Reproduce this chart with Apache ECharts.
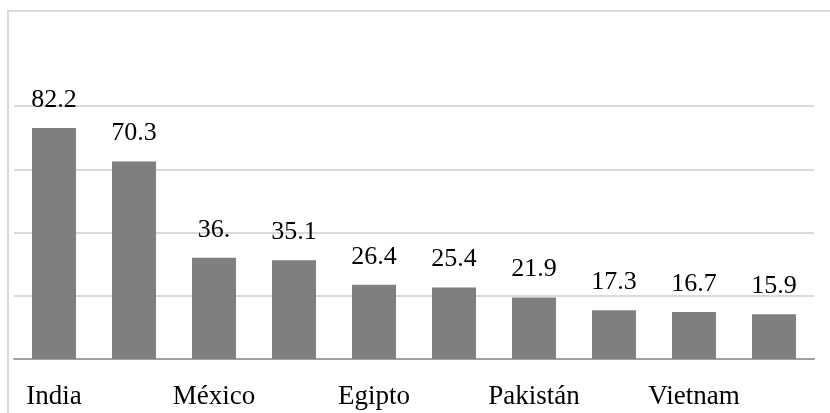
<!DOCTYPE html>
<html>
<head>
<meta charset="utf-8">
<script src="https://cdn.jsdelivr.net/npm/echarts@6/dist/echarts.min.js"></script>
<style>
  html, body { margin: 0; padding: 0; background: #fff; }
  #main { width: 830px; height: 413px; }
</style>
</head>
<body>
<div id="main"></div>
<script>
// países (solo se ve uno de cada dos en el eje)
var paises = ['India', 'China', 'México', 'Filipinas', 'Egipto', 'Nigeria', 'Pakistán', 'Bangladesh', 'Vietnam', 'Ucrania'];
var valores = [82.2, 70.3, 36.0, 35.1, 26.4, 25.4, 21.9, 17.3, 16.7, 15.9];
// etiquetas tal como salen en el gráfico
var etiquetas = ['82.2', '70.3', '36.', '35.1', '26.4', '25.4', '21.9', '17.3', '16.7', '15.9'];

var fuente = '"Liberation Serif", "DejaVu Serif", serif';

var chart = echarts.init(document.getElementById('main'));
chart.setOption({
  animation: false,
  backgroundColor: '#fff',
  // marco del area del grafico
  graphic: [{
    type: 'rect',
    shape: { x: 8, y: 11, width: 840, height: 430 },
    style: { fill: 'none', stroke: '#d9d9d9', lineWidth: 2 },
    silent: true
  }],
  grid: {
    left: 14,
    right: 16,
    top: 106,
    bottom: 54
  },
  xAxis: {
    type: 'category',
    data: paises,
    axisTick: { show: false },
    axisLine: { lineStyle: { color: '#a0a0a0', width: 2 } },
    axisLabel: {
      interval: 1, // uno si, uno no
      margin: 24,
      color: '#000',
      fontFamily: fuente,
      fontSize: 27
    }
  },
  yAxis: {
    type: 'value',
    min: 0,
    max: 90,
    interval: 22.5,
    axisLabel: { show: false },
    axisLine: { show: false },
    axisTick: { show: false },
    splitLine: { lineStyle: { color: '#d9d9d9', width: 2 } }
  },
  series: [{
    type: 'bar',
    data: valores,
    barCategoryGap: '45%',
    itemStyle: { color: '#7f7f7f' },
    label: {
      show: true,
      position: 'top',
      distance: 15,
      color: '#000',
      fontFamily: fuente,
      fontSize: 26,
      formatter: function (p) { return etiquetas[p.dataIndex]; }
    }
  }]
});
</script>
</body>
</html>
